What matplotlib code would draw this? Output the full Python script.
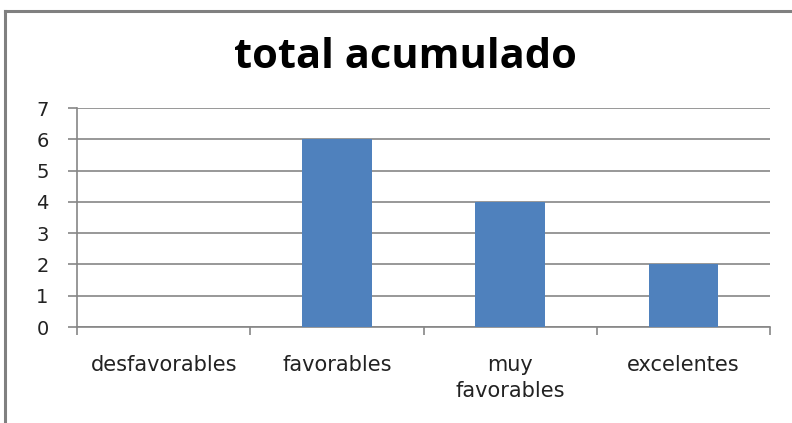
import matplotlib
matplotlib.use("Agg")
import matplotlib.pyplot as plt
from matplotlib.lines import Line2D
from matplotlib.ticker import FixedLocator, NullFormatter

categories = ["desfavorables", "favorables", "muy\nfavorables", "excelentes"]
values = [0, 6, 4, 2]
yticks = [0, 1, 2, 3, 4, 5, 6, 7]
title = "total acumulado"

W, H = 792, 423
fig = plt.figure(figsize=(W / 100, H / 100), dpi=100)
ax = fig.add_axes([77 / W, 1 - 327 / H, (770 - 77) / W, (327 - 108) / H])

grey = "#868686"
x = list(range(len(categories)))
ax.bar(x, values, width=0.4, color="#4F81BD", zorder=3)
ax.set_xlim(-0.5, len(categories) - 0.5)
ax.set_ylim(0, 7)
ax.set_yticks(yticks)
ax.set_yticklabels([str(v) for v in yticks], fontsize=14, color="#222222")
ax.yaxis.grid(True, color=grey, linewidth=1.2, zorder=0)
ax.tick_params(axis="y", length=6.5, width=1.2, color=grey, pad=14, direction="out")

ax.set_xticks(x)
ax.set_xticklabels(categories, fontsize=15, color="#222222", linespacing=1.4)
ax.tick_params(axis="x", length=0, pad=20)
ax.xaxis.set_minor_locator(FixedLocator([-0.5, 0.5, 1.5, 2.5, 3.5]))
ax.xaxis.set_minor_formatter(NullFormatter())
ax.tick_params(axis="x", which="minor", length=6, width=1.2, color=grey, direction="out")
for lab in ax.get_xticklabels():
    lab.set_verticalalignment("top")

for s in ["top", "right"]:
    ax.spines[s].set_visible(False)
for s in ["left", "bottom"]:
    ax.spines[s].set_color(grey)
    ax.spines[s].set_linewidth(1.2)

fig.text(405 / W, 1 - 58 / H, title, ha="center", va="center",
         fontsize=30, fontweight="bold", family="Open Sans", color="black")

# outer chart frame (partially visible)
fig.add_artist(Line2D([5 / W, 5 / W], [0, 1 - 11 / H], color="#808080", linewidth=2.2,
                      transform=fig.transFigure))
fig.add_artist(Line2D([5 / W, 1], [1 - 11 / H, 1 - 11 / H], color="#808080", linewidth=2.2,
                      transform=fig.transFigure))

fig.savefig("out.png", dpi=100)
